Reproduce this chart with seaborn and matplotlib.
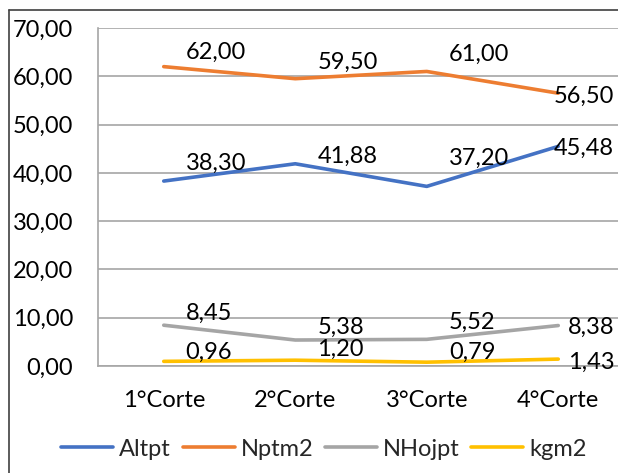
import matplotlib
matplotlib.use("Agg")
import matplotlib.pyplot as plt
from matplotlib.lines import Line2D
import seaborn as sns
import pandas as pd

cortes = ["1°Corte", "2°Corte", "3°Corte", "4°Corte"]
series_names = ["Altpt", "Nptm2", "NHojpt", "kgm2"]
altpt = [38.30, 41.88, 37.20, 45.48]
nptm2 = [62.00, 59.50, 61.00, 56.50]
nhojpt = [8.45, 5.38, 5.52, 8.38]
kgm2 = [0.96, 1.20, 0.79, 1.43]
colors = ["#4472C4", "#ED7D31", "#A5A5A5", "#FFC000"]

# label offsets in pixels (dx, dy) relative to each point; last column right-aligned
label_offsets = {
    "Altpt": [(22, 18), (22, 7), (22, 28), (56, -2)],
    "Nptm2": [(22, 14), (22, 16), (22, 17), (56, -3)],
    "NHojpt": [(22, 12), (22, 13), (22, 17), (56, -2)],
    "kgm2": [(22, 9), (22, 11), (22, 10), (56, -3)],
}

values = [altpt, nptm2, nhojpt, kgm2]
df = pd.DataFrame({
    "corte": cortes * len(series_names),
    "serie": [s for s in series_names for _ in cortes],
    "valor": [v for vals in values for v in vals],
})

sns.set_theme(style="white")
plt.rcParams["font.family"] = ["Lato", "DejaVu Sans"]

FS = 17
W, H = 618, 473
fig = plt.figure(figsize=(W / 100, H / 100), dpi=100)
ax = fig.add_axes([98 / W, (H - 366) / H, (624 - 98) / W, (366 - 28) / H])

sns.lineplot(data=df, x="corte", y="valor", hue="serie", hue_order=series_names,
             palette=colors, sort=False, linewidth=2.6, ax=ax, legend=False)

grid_c = "#A6A6A6"
ax.set_xlim(-0.5, 3.5)
ax.set_ylim(0, 70)
ax.set_yticks(range(0, 71, 10))
ax.set_yticklabels([f"{v:.2f}".replace(".", ",") for v in range(0, 71, 10)])
ax.set_xticks(range(len(cortes)))
ax.set_xticklabels(cortes)
ax.set_xticks([i - 0.5 for i in range(len(cortes) + 1)], minor=True)
ax.yaxis.grid(True, color=grid_c, linewidth=1.2)
ax.set_axisbelow(True)
for side in ["top", "right"]:
    ax.spines[side].set_visible(False)
for side in ["left", "bottom"]:
    ax.spines[side].set_color(grid_c)
    ax.spines[side].set_linewidth(1.2)
ax.tick_params(axis="y", which="major", length=6, color=grid_c, width=1.2,
               pad=12, labelsize=FS, labelcolor="#000000")
ax.tick_params(axis="x", which="major", length=0, pad=17, labelsize=FS,
               labelcolor="#000000")
ax.tick_params(axis="x", which="minor", length=6, color=grid_c, width=1.2,
               direction="out")
ax.set_xlabel("")
ax.set_ylabel("")

for name, vals in zip(series_names, values):
    for i, v in enumerate(vals):
        dx, dy = label_offsets[name][i]
        ax.annotate(f"{v:.2f}".replace(".", ","), (i, v), xytext=(dx, dy),
                    textcoords="offset pixels", ha="right" if i == 3 else "left",
                    va="center", fontsize=FS, color="#000000")

handles = [Line2D([0], [0], color=c, linewidth=2.6) for c in colors]
fig.legend(handles, series_names, loc="center", bbox_to_anchor=(324 / W, (H - 449) / H),
           ncol=4, frameon=False, fontsize=FS, handlelength=2.2, handletextpad=0.25,
           columnspacing=0.5, borderaxespad=0)

# outer chart frame
fig.add_artist(Line2D([9 / W, 9 / W], [(H - 10) / H, -0.1], transform=fig.transFigure,
                      color="#404040", linewidth=1.2))
fig.add_artist(Line2D([9 / W, 1.1], [(H - 10) / H, (H - 10) / H], transform=fig.transFigure,
                      color="#404040", linewidth=1.2))

fig.savefig("out.png", dpi=100)
